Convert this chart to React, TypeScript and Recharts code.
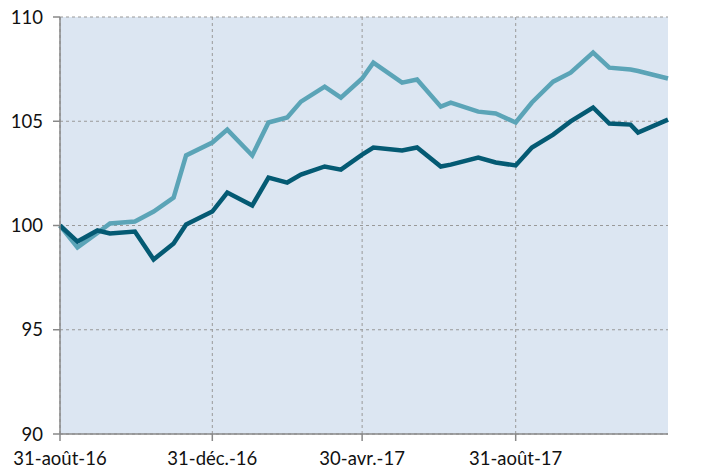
import { LineChart, Line, XAxis, YAxis, CartesianGrid } from "recharts";

// observation dates (irregular, roughly twice a month)
const dates = [
  "2016-08-31", "2016-09-14", "2016-09-30", "2016-10-10", "2016-10-30",
  "2016-11-14", "2016-11-30", "2016-12-10", "2016-12-31", "2017-01-12",
  "2017-02-01", "2017-02-14", "2017-03-01", "2017-03-12", "2017-03-31",
  "2017-04-13", "2017-04-30", "2017-05-09", "2017-06-01", "2017-06-13",
  "2017-07-02", "2017-07-10", "2017-08-01", "2017-08-15", "2017-08-31",
  "2017-09-13", "2017-09-30", "2017-10-14", "2017-11-01", "2017-11-14",
  "2017-12-01", "2017-12-07", "2017-12-31",
];

const seriesDark = [
  100.0, 99.23, 99.76, 99.62, 99.71, 98.37, 99.14, 100.05, 100.67, 101.58,
  100.96, 102.3, 102.06, 102.44, 102.83, 102.68, 103.4, 103.74, 103.6, 103.74,
  102.83, 102.92, 103.26, 103.02, 102.88, 103.74, 104.36, 104.99, 105.66, 104.89,
  104.84, 104.46, 105.08,
];

const seriesLight = [
  100.0, 98.95, 99.64, 100.1, 100.19, 100.67, 101.34, 103.36, 103.98, 104.6,
  103.36, 104.94, 105.18, 105.94, 106.66, 106.13, 107.05, 107.81, 106.85, 107.0,
  105.7, 105.89, 105.46, 105.37, 104.94, 105.9, 106.9, 107.33, 108.29, 107.57,
  107.48, 107.41, 107.05,
];

const tickDates = ["2016-08-31", "2016-12-31", "2017-04-30", "2017-08-31"];
const tickLabels = ["31-août-16", "31-déc.-16", "30-avr.-17", "31-août-17"];
const yTicks = [90, 95, 100, 105, 110];

const toTime = (d: string) => {
  const [y, m, day] = d.split("-").map(Number);
  return Date.UTC(y, m - 1, day);
};

const data = dates.map((d, i) => ({
  t: toTime(d),
  dark: seriesDark[i],
  light: seriesLight[i],
}));

const xTicks = tickDates.map(toTime);
const labelFor = (t: number) => tickLabels[xTicks.indexOf(t)] ?? "";

const font = { fontFamily: "Lato, 'Open Sans', sans-serif", fontSize: 18.5, fill: "#111" };

export default function App() {
  return (
    <div style={{ position: "absolute", left: 0, top: 0, background: "#fff" }}>
      <LineChart
        width={705}
        height={469}
        data={data}
        margin={{ top: 17, right: 37, bottom: 0, left: 0 }}
      >
        <CartesianGrid
          fill="#dce6f2"
          stroke="#999"
          strokeDasharray="3 3"
          horizontalValues={yTicks}
          verticalValues={xTicks}
        />
        <XAxis
          dataKey="t"
          type="number"
          scale="time"
          domain={[toTime("2016-08-31"), toTime("2017-12-31")]}
          ticks={xTicks}
          tickFormatter={labelFor}
          height={35}
          stroke="#888"
          strokeWidth={1.5}
          tickSize={7}
          tickMargin={11}
          tick={font}
          interval={0}
        />
        <YAxis
          domain={[90, 110]}
          ticks={yTicks}
          width={60}
          stroke="#888"
          strokeWidth={1.5}
          tickSize={7}
          tickMargin={10}
          tick={font}
          interval={0}
        />
        <Line
          dataKey="light"
          stroke="#5ba4b7"
          strokeWidth={4.5}
          dot={false}
          isAnimationActive={false}
          strokeLinejoin="miter"
        />
        <Line
          dataKey="dark"
          stroke="#045a73"
          strokeWidth={4.5}
          dot={false}
          isAnimationActive={false}
          strokeLinejoin="miter"
        />
      </LineChart>
    </div>
  );
}
